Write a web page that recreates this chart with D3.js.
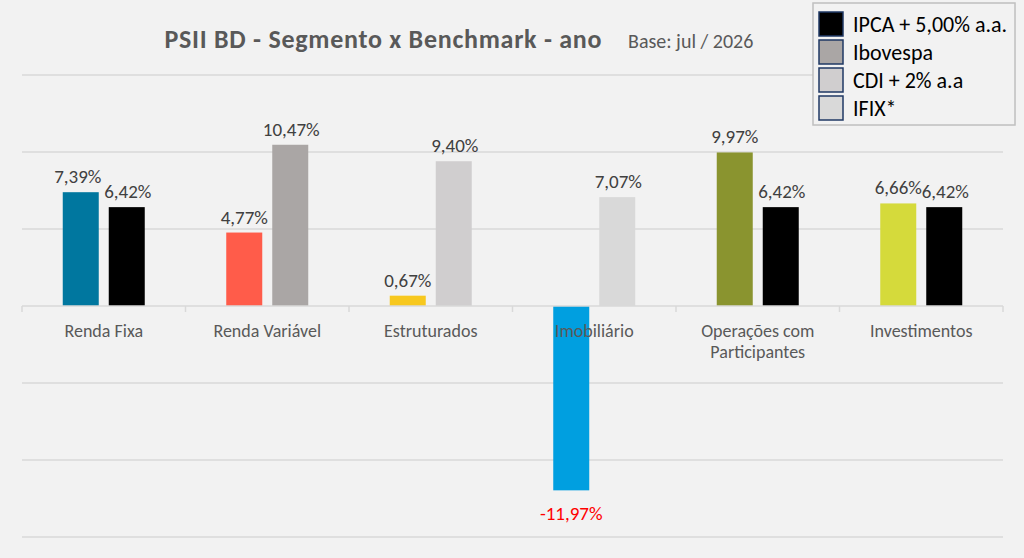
<!DOCTYPE html>
<html><head><meta charset="utf-8">
<script src="https://cdn.jsdelivr.net/npm/d3@7"></script>
<style>body{margin:0;background:#f2f2f2}svg{font-family:Calibri,Carlito,Lato,sans-serif}</style>
</head><body><svg id="c" width="1024" height="558"></svg>
<script>
const categories = ["Renda Fixa", "Renda Variável", "Estruturados", "Imobiliário", "Operações com|Participantes", "Investimentos"];
const segmentValues = [7.39, 4.77, 0.67, -11.97, 9.97, 6.66];
const segmentColors = ["#00779f", "#ff5c4a", "#f7c81e", "#009fe0", "#8a942f", "#d5da3b"];
const benchValues = [6.42, 10.47, 9.40, 7.07, 6.42, 6.42];
const benchColors = ["#000000", "#aaa6a5", "#d0cecf", "#d9d9d9", "#000000", "#000000"];
const legendLabels = ["IPCA + 5,00% a.a.", "Ibovespa", "CDI + 2% a.a", "IFIX*"];
const legendColors = ["#000000", "#aaa6a5", "#d0cecf", "#d9d9d9"];
const gridTicks = [20, 15, 10, 5, 0, -5, -10, -15];

const svg = d3.select("#c");
const fmt = v => d3.format(".2f")(v).replace(".", ",").replace("−", "-") + "%";
const x = d3.scaleBand().domain(categories).range([22, 1003]);
const y = d3.scaleLinear().domain([0, 5]).range([306, 229]);

svg.append("g").selectAll("line").data(gridTicks.filter(t => t !== 0 && y(t) > 60 && y(t) < 550))
  .enter().append("line")
  .attr("x1", 22).attr("x2", 1003).attr("y1", d => y(d)).attr("y2", d => y(d))
  .attr("stroke", "#d9d9d9").attr("stroke-width", 1.5);

svg.append("text").attr("x", 383).attr("y", 48).attr("text-anchor", "middle")
  .attr("font-size", 26).attr("font-weight", "bold").attr("fill", "#595959")
  .attr("textLength", 437)
  .text("PSII BD - Segmento x Benchmark - ano");
svg.append("text").attr("x", 628).attr("y", 48).attr("font-size", 20).attr("fill", "#595959")
  .text("Base: jul / 2026");

const bw = 36, gap = 10;
const g = svg.append("g").selectAll("g").data(categories).enter().append("g")
  .attr("transform", d => `translate(${x(d) + x.bandwidth() / 2},0)`);

g.append("rect")
  .attr("x", -bw - gap / 2).attr("width", bw)
  .attr("y", (d, i) => Math.min(y(segmentValues[i]), y(0)))
  .attr("height", (d, i) => Math.abs(y(segmentValues[i]) - y(0)))
  .attr("fill", (d, i) => segmentColors[i]);
g.append("rect")
  .attr("x", gap / 2).attr("width", bw)
  .attr("y", (d, i) => y(benchValues[i]))
  .attr("height", (d, i) => y(0) - y(benchValues[i]))
  .attr("fill", (d, i) => benchColors[i]);

g.append("text").attr("text-anchor", "middle").attr("font-size", 19)
  .attr("x", (d, i) => -bw / 2 - gap / 2 - (i === 0 ? 3 : 0))
  .attr("y", (d, i) => segmentValues[i] < 0 ? y(segmentValues[i]) + 30 : y(segmentValues[i]) - 9)
  .attr("fill", (d, i) => segmentValues[i] < 0 ? "#ff0000" : "#404040")
  .text((d, i) => fmt(segmentValues[i]));
g.append("text").attr("text-anchor", "middle").attr("font-size", 19).attr("fill", "#404040")
  .attr("x", bw / 2 + gap / 2 + 1).attr("y", (d, i) => y(benchValues[i]) - 9)
  .text((d, i) => fmt(benchValues[i]));

// axis
svg.append("line").attr("x1", 22).attr("x2", 1003).attr("y1", y(0)).attr("y2", y(0))
  .attr("stroke", "#d9d9d9").attr("stroke-width", 1.5);
svg.append("g").selectAll("line").data(d3.range(categories.length + 1)).enter().append("line")
  .attr("x1", i => 22 + i * x.bandwidth()).attr("x2", i => 22 + i * x.bandwidth())
  .attr("y1", y(0)).attr("y2", y(0) + 6).attr("stroke", "#d9d9d9").attr("stroke-width", 1.5);
const lab = g.append("text").attr("text-anchor", "middle").attr("font-size", 18).attr("fill", "#595959");
lab.selectAll("tspan").data(d => d.split("|")).enter().append("tspan")
  .attr("x", 0).attr("y", (d, i) => 337 + i * 21).text(d => d);

// legend
const lg = svg.append("g").attr("transform", "translate(813,3)");
lg.append("rect").attr("width", 202).attr("height", 122).attr("fill", "#f2f2f2")
  .attr("stroke", "#bfbfbf").attr("stroke-width", 1.5);
const li = lg.selectAll("g").data(legendLabels).enter().append("g")
  .attr("transform", (d, i) => `translate(6,${9 + i * 28})`);
li.append("rect").attr("width", 24).attr("height", 24)
  .attr("fill", (d, i) => legendColors[i]).attr("stroke", "#1f3864").attr("stroke-width", 1.5);
li.append("text").attr("x", 34).attr("y", 20).attr("font-size", 22).attr("fill", "#000").text(d => d);
</script></body></html>
